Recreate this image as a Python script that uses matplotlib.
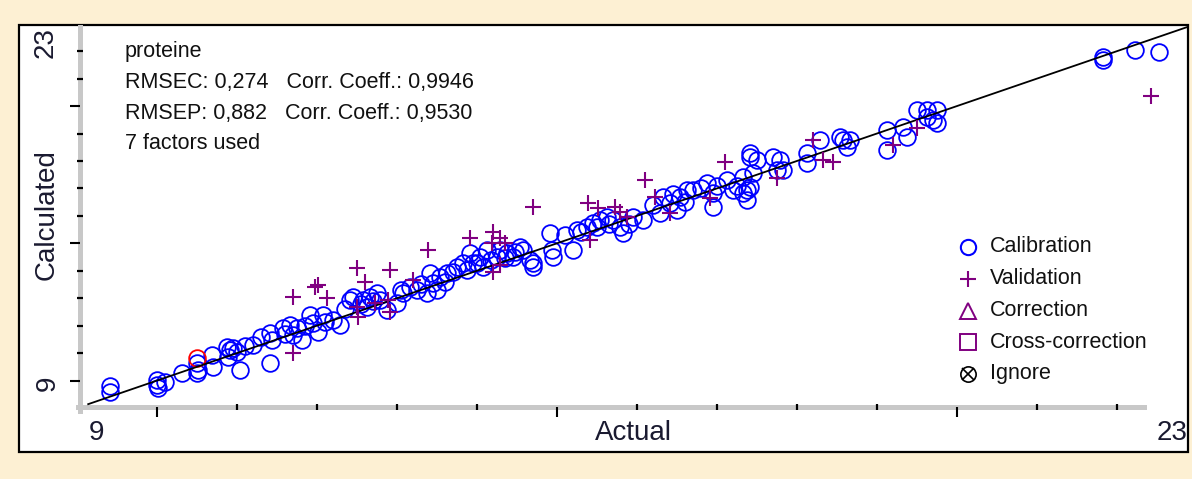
import matplotlib.pyplot as plt
from matplotlib.patches import Rectangle

plt.rcParams['font.family'] = ['Liberation Sans', 'DejaVu Sans']

W, H = 1192, 479
BLUE = "#0000FF"
PURPLE = "#800080"
BEIGE = "#FDF0D3"
LABEL_COLOR = "#1a1a30"

# calibration set (actual, calculated)
calib_x = [9.41, 9.41, 10.00, 10.00, 10.01, 10.10, 10.31, 10.50, 10.51, 10.50, 10.69, 10.70,
           10.88, 10.91, 10.89, 11.00, 11.04, 11.20, 11.41, 11.44, 11.41, 11.58, 11.66, 11.75,
           11.70, 11.81, 11.91, 11.95, 12.01, 12.08, 12.20, 12.29, 12.41, 12.45, 12.58, 12.63,
           12.66, 12.75, 12.79, 12.88, 13.00, 13.08, 13.16, 13.25, 13.38, 13.41, 13.45, 13.50,
           13.54, 13.63, 13.75, 13.83, 13.88, 13.91, 13.95, 14.04, 14.08, 14.13, 14.25, 14.29,
           14.38, 14.45, 14.54, 14.66, 14.70, 14.58, 14.70, 14.91, 14.94, 14.95, 15.20, 15.25,
           15.38, 15.45, 15.54, 15.63, 15.70, 15.83, 15.79, 15.95, 16.08, 16.29, 16.33, 16.41,
           16.50, 16.54, 16.63, 16.70, 16.88, 16.95, 16.95, 17.13, 17.20, 17.33, 17.41, 17.41,
           17.45, 17.41, 17.50, 17.70, 17.79, 17.75, 17.83, 17.33, 17.38, 17.38, 18.13, 18.13,
           18.29, 18.54, 18.58, 18.66, 18.63, 19.13, 19.13, 19.33, 19.38, 19.50, 19.63, 19.75,
           19.70, 19.75, 19.63, 21.83, 21.83, 22.23, 22.53,
           10.95, 11.10, 11.30, 11.60, 11.85, 12.10, 12.35, 12.55, 12.70, 13.05, 13.30, 13.60,
           13.70, 14.00, 14.18, 14.35, 14.48, 15.10, 15.30, 15.50, 15.65, 15.90, 16.20, 16.45,
           16.60, 16.80, 17.00, 17.25]
calib_y = [9.80, 9.58, 10.02, 9.84, 9.73, 9.95, 10.28, 10.64, 10.38, 10.28, 10.93, 10.49,
           11.22, 11.11, 10.86, 11.04, 10.38, 11.30, 11.73, 11.48, 10.64, 11.91, 12.02, 11.91,
           11.66, 11.48, 12.39, 12.10, 11.77, 12.39, 12.21, 12.02, 12.93, 13.04, 12.93, 12.68,
           13.04, 13.19, 12.93, 12.57, 12.83, 13.19, 13.41, 13.30, 13.19, 13.92, 13.55, 13.30,
           13.77, 13.92, 14.14, 14.28, 14.03, 14.65, 14.28, 14.50, 14.14, 14.76, 14.50, 14.76,
           14.65, 14.50, 14.87, 14.39, 14.14, 14.76, 14.28, 15.38, 14.76, 14.50, 14.76, 15.48,
           15.59, 15.74, 15.85, 15.96, 15.85, 15.38, 15.59, 15.96, 15.85, 16.10, 16.69, 16.47,
           16.21, 16.69, 16.94, 16.94, 17.20, 16.83, 16.32, 17.31, 16.94, 16.83, 17.05, 18.14,
           17.56, 18.29, 18.03, 18.14, 18.03, 17.67, 17.67, 17.42, 16.94, 16.58, 18.29, 17.93,
           18.76, 18.87, 18.76, 18.76, 18.51, 19.13, 18.40, 19.24, 18.87, 19.86, 19.86, 19.86,
           19.49, 19.38, 19.60, 21.68, 21.79, 22.04, 21.97,
           11.20, 11.25, 11.60, 11.70, 12.00, 12.15, 12.60, 12.80, 12.90, 13.30, 13.50, 13.60,
           13.95, 14.30, 14.40, 14.45, 14.70, 15.30, 15.40, 15.60, 15.70, 15.70, 16.40, 16.80,
           16.50, 17.00, 17.10, 17.10]

# flagged calibration sample (red)
flag_x = [10.50]
flag_y = [10.82]

# validation set
valid_x = [11.70, 11.98, 11.70, 12.01, 12.13, 12.50, 12.60, 12.91, 12.50, 12.73, 12.89, 12.91,
           12.51, 13.20, 13.39, 13.91, 14.20, 14.19, 14.29, 14.35, 14.20, 14.29, 14.70, 15.39,
           15.51, 15.73, 15.79, 15.88, 15.41, 16.10, 16.23, 16.41, 16.91, 17.10, 18.20, 18.33,
           18.45, 17.75, 19.20, 19.50, 22.43]
valid_y = [13.04, 13.41, 11.00, 13.48, 13.01, 14.10, 13.59, 14.03, 12.68, 12.83, 12.93, 12.50,
           12.32, 13.66, 14.76, 15.19, 15.41, 15.01, 15.19, 15.01, 13.95, 14.21, 16.32, 16.47,
           16.29, 16.32, 16.14, 15.96, 15.12, 17.31, 16.69, 16.10, 16.65, 17.96, 18.76, 18.03,
           17.96, 17.38, 18.58, 19.20, 20.37]

stats_lines = ["proteine",
               "RMSEC: 0,274   Corr. Coeff.: 0,9946",
               "RMSEP: 0,882   Corr. Coeff.: 0,9530",
               "7 factors used"]
legend_labels = ["Calibration", "Validation", "Correction", "Cross-correction", "Ignore"]

x_min, x_max = 9, 22.875
y_min, y_max = 9, 23


def fx(px):
    return px / W


def fy(py):
    return 1 - py / H


fig = plt.figure(figsize=(W / 100, H / 100), dpi=100)
fig.patch.set_facecolor(BEIGE)
fig.patches.append(Rectangle((fx(19), fy(452)), fx(1188) - fx(19), fy(25) - fy(452),
                             transform=fig.transFigure, facecolor="white", edgecolor="black",
                             linewidth=1.6, zorder=-5))

ax = fig.add_axes([fx(77), fy(408), fx(1187) - fx(77), fy(23.7) - fy(408)])
ax.set_facecolor("none")
ax.set_xlim(x_min, x_max)
ax.set_ylim(y_min, y_max)

ax.plot(calib_x, calib_y, "o", ms=12, mfc="none", mec=BLUE, mew=1.3, zorder=3)
ax.plot(flag_x, flag_y, "o", ms=12, mfc="none", mec="red", mew=1.3, zorder=3)
ax.plot([9.14, 22.9], [9.14, 22.9], color="black", lw=1.3, zorder=4)
ax.plot(valid_x, valid_y, "+", ms=12, mec=PURPLE, mew=1.5, zorder=5)

# axes: grey bars with small black ticks on top
for side in ["top", "right"]:
    ax.spines[side].set_visible(False)
ax.spines["left"].set_position(("data", 9.0375))
ax.spines["bottom"].set_position(("data", 9.036))
ax.spines["left"].set_bounds(8.89, 22.88)
ax.spines["bottom"].set_bounds(9.01, 22.34)
for side in ["left", "bottom"]:
    ax.spines[side].set_color("#C8C8C8")
    ax.spines[side].set_linewidth(3.6)
    ax.spines[side].set_zorder(1)

ax.set_xticks([10, 15, 20])
ax.set_yticks([10, 15, 20])
ax.set_xticks(range(10, 23), minor=True)
ax.set_yticks(range(10, 23), minor=True)
ax.tick_params(which="major", direction="out", length=7, width=1.5, color="black",
               labelbottom=False, labelleft=False)
ax.tick_params(which="minor", direction="inout", length=4.5, width=1.6, color="black")

# axis labels and range labels
fig.text(fx(633), fy(433), "Actual", fontsize=20, color=LABEL_COLOR, ha="center", va="center")
fig.text(fx(97), fy(433), "9", fontsize=20, color=LABEL_COLOR, ha="center", va="center")
fig.text(fx(1172), fy(433), "23", fontsize=20, color=LABEL_COLOR, ha="center", va="center")
fig.text(fx(47), fy(215), "Calculated", fontsize=20, color=LABEL_COLOR, rotation=90,
         ha="center", va="center")
fig.text(fx(48), fy(383), "9", fontsize=20, color=LABEL_COLOR, rotation=90, ha="center", va="center")
fig.text(fx(46), fy(43), "23", fontsize=20, color=LABEL_COLOR, rotation=90, ha="center", va="center")

# statistics block
for i, line in enumerate(stats_lines):
    fig.text(fx(125), fy(52 + 30.5 * i), line, fontsize=15.5, color="#111111",
             ha="left", va="center")

# legend drawn by hand
leg_y = [247, 279, 311, 342, 374]
mk_x = fx(968)
fig.add_artist(plt.Line2D([mk_x], [fy(leg_y[0])], marker="o", ms=11, mfc="none", mec=BLUE,
                          mew=1.5, ls="none", transform=fig.transFigure))
fig.add_artist(plt.Line2D([mk_x], [fy(leg_y[1])], marker="+", ms=12, mec=PURPLE,
                          mew=1.5, ls="none", transform=fig.transFigure))
fig.add_artist(plt.Line2D([mk_x], [fy(leg_y[2])], marker="^", ms=11, mfc="none", mec=PURPLE,
                          mew=1.4, ls="none", transform=fig.transFigure))
fig.add_artist(plt.Line2D([mk_x], [fy(leg_y[3])], marker="s", ms=11, mfc="none", mec=PURPLE,
                          mew=1.4, ls="none", transform=fig.transFigure))
fig.add_artist(plt.Line2D([mk_x], [fy(leg_y[4])], marker="o", ms=11, mfc="none", mec="black",
                          mew=1.2, ls="none", transform=fig.transFigure))
fig.add_artist(plt.Line2D([mk_x], [fy(leg_y[4])], marker="x", ms=8, mec="black",
                          mew=1.2, ls="none", transform=fig.transFigure))
for y, lab in zip(leg_y, legend_labels):
    fig.text(fx(990), fy(y), lab, fontsize=15.5, color="#111111", ha="left", va="center")

fig.savefig("out.png", dpi=100, facecolor=fig.get_facecolor())
